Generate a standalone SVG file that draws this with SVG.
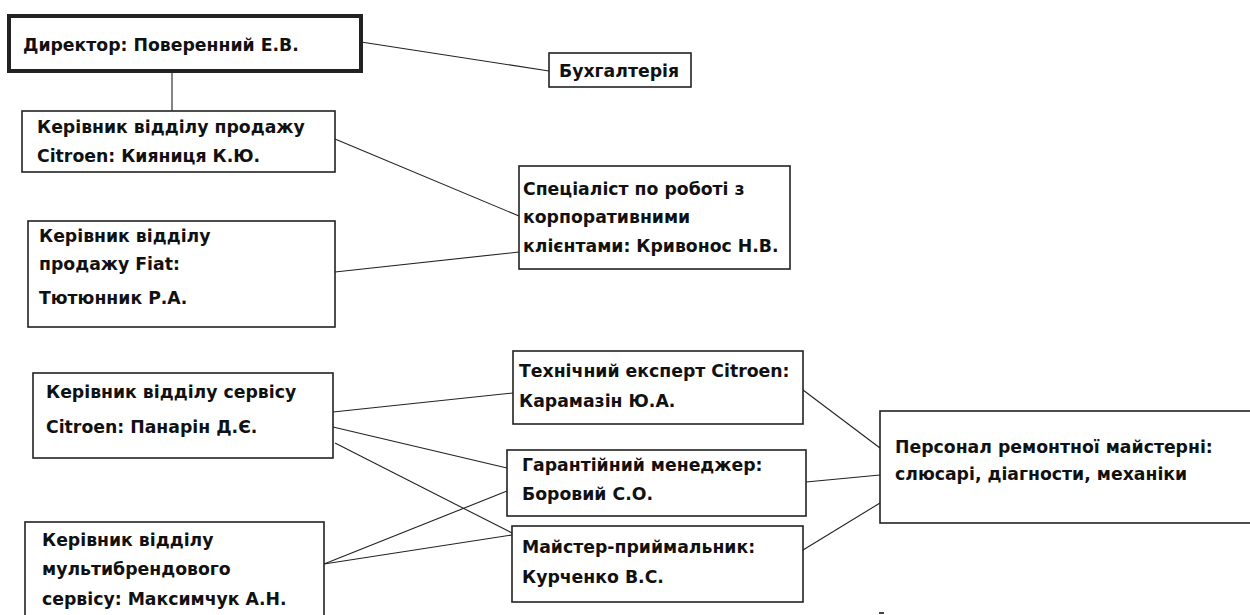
<svg xmlns="http://www.w3.org/2000/svg" width="1250" height="615" viewBox="0 0 1250 615">
<style>
.box{fill:#fff;stroke:#222;stroke-width:1.6}
.thick{stroke-width:4}
.lnk{stroke:#222;stroke-width:1.1;fill:none}
text{font-family:"DejaVu Sans",Verdana,sans-serif;font-weight:bold;font-size:17.3px;fill:#111}
</style>
<rect width="1250" height="615" fill="#fff"/>
<g id="connectors">
<line class="lnk" x1="172" y1="71" x2="172" y2="111"/>
<line class="lnk" x1="361" y1="42" x2="549" y2="71"/>
<line class="lnk" x1="335" y1="139" x2="519" y2="216"/>
<line class="lnk" x1="335" y1="272" x2="519" y2="252"/>
<line class="lnk" x1="333" y1="412" x2="513" y2="393"/>
<line class="lnk" x1="333" y1="427" x2="507" y2="468"/>
<line class="lnk" x1="335" y1="443" x2="512" y2="533"/>
<line class="lnk" x1="324" y1="564" x2="507" y2="491"/>
<line class="lnk" x1="324" y1="564" x2="512" y2="535"/>
<line class="lnk" x1="803" y1="390" x2="880" y2="448"/>
<line class="lnk" x1="806" y1="482" x2="880" y2="475"/>
<line class="lnk" x1="803" y1="550" x2="880" y2="503"/>
</g>
<g id="director"><rect class="box thick" x="9" y="16" width="352" height="55"/><text x="23" y="51">Директор: Поверенний Е.В.</text></g>
<g id="accounting"><rect class="box" x="549" y="53" width="142" height="34"/><text x="559" y="77">Бухгалтерія</text></g>
<g id="sales-citroen"><rect class="box" x="22" y="111" width="313" height="61"/><text x="37" y="133">Керівник відділу продажу</text><text x="37" y="162">Citroen: Кияниця К.Ю.</text></g>
<g id="sales-fiat"><rect class="box" x="28" y="221" width="307" height="106"/><text x="39" y="242">Керівник відділу</text><text x="39" y="270">продажу Fiat:</text><text x="39" y="304">Тютюнник Р.А.</text></g>
<g id="corporate"><rect class="box" x="519" y="166" width="271" height="103"/><text x="523" y="195">Спеціаліст по роботі з</text><text x="523" y="223">корпоративними</text><text x="523" y="252">клієнтами: Кривонос Н.В.</text></g>
<g id="service-citroen"><rect class="box" x="33" y="373" width="300" height="85"/><text x="46" y="398">Керівник відділу сервісу</text><text x="46" y="433">Citroen: Панарін Д.Є.</text></g>
<g id="multibrand"><rect class="box" x="25" y="522" width="299" height="100"/><text x="42" y="546">Керівник відділу</text><text x="42" y="575">мультибрендового</text><text x="42" y="605">сервісу: Максимчук А.Н.</text></g>
<g id="tech-expert"><rect class="box" x="513" y="351" width="290" height="73"/><text x="519" y="377">Технічний експерт Citroen:</text><text x="519" y="407">Карамазін Ю.А.</text></g>
<g id="warranty"><rect class="box" x="507" y="450" width="299" height="66"/><text x="522" y="471">Гарантійний менеджер:</text><text x="522" y="500">Боровий С.О.</text></g>
<g id="master"><rect class="box" x="512" y="526" width="291" height="76"/><text x="522" y="553">Майстер-приймальник:</text><text x="522" y="583">Курченко В.С.</text></g>
<g id="workshop"><rect class="box" x="880" y="411" width="372" height="112"/><text x="895" y="453">Персонал ремонтної майстерні:</text><text x="895" y="480">слюсарі, діагности, механіки</text></g>
<rect x="879" y="612" width="5" height="2" fill="#444"/>
</svg>
